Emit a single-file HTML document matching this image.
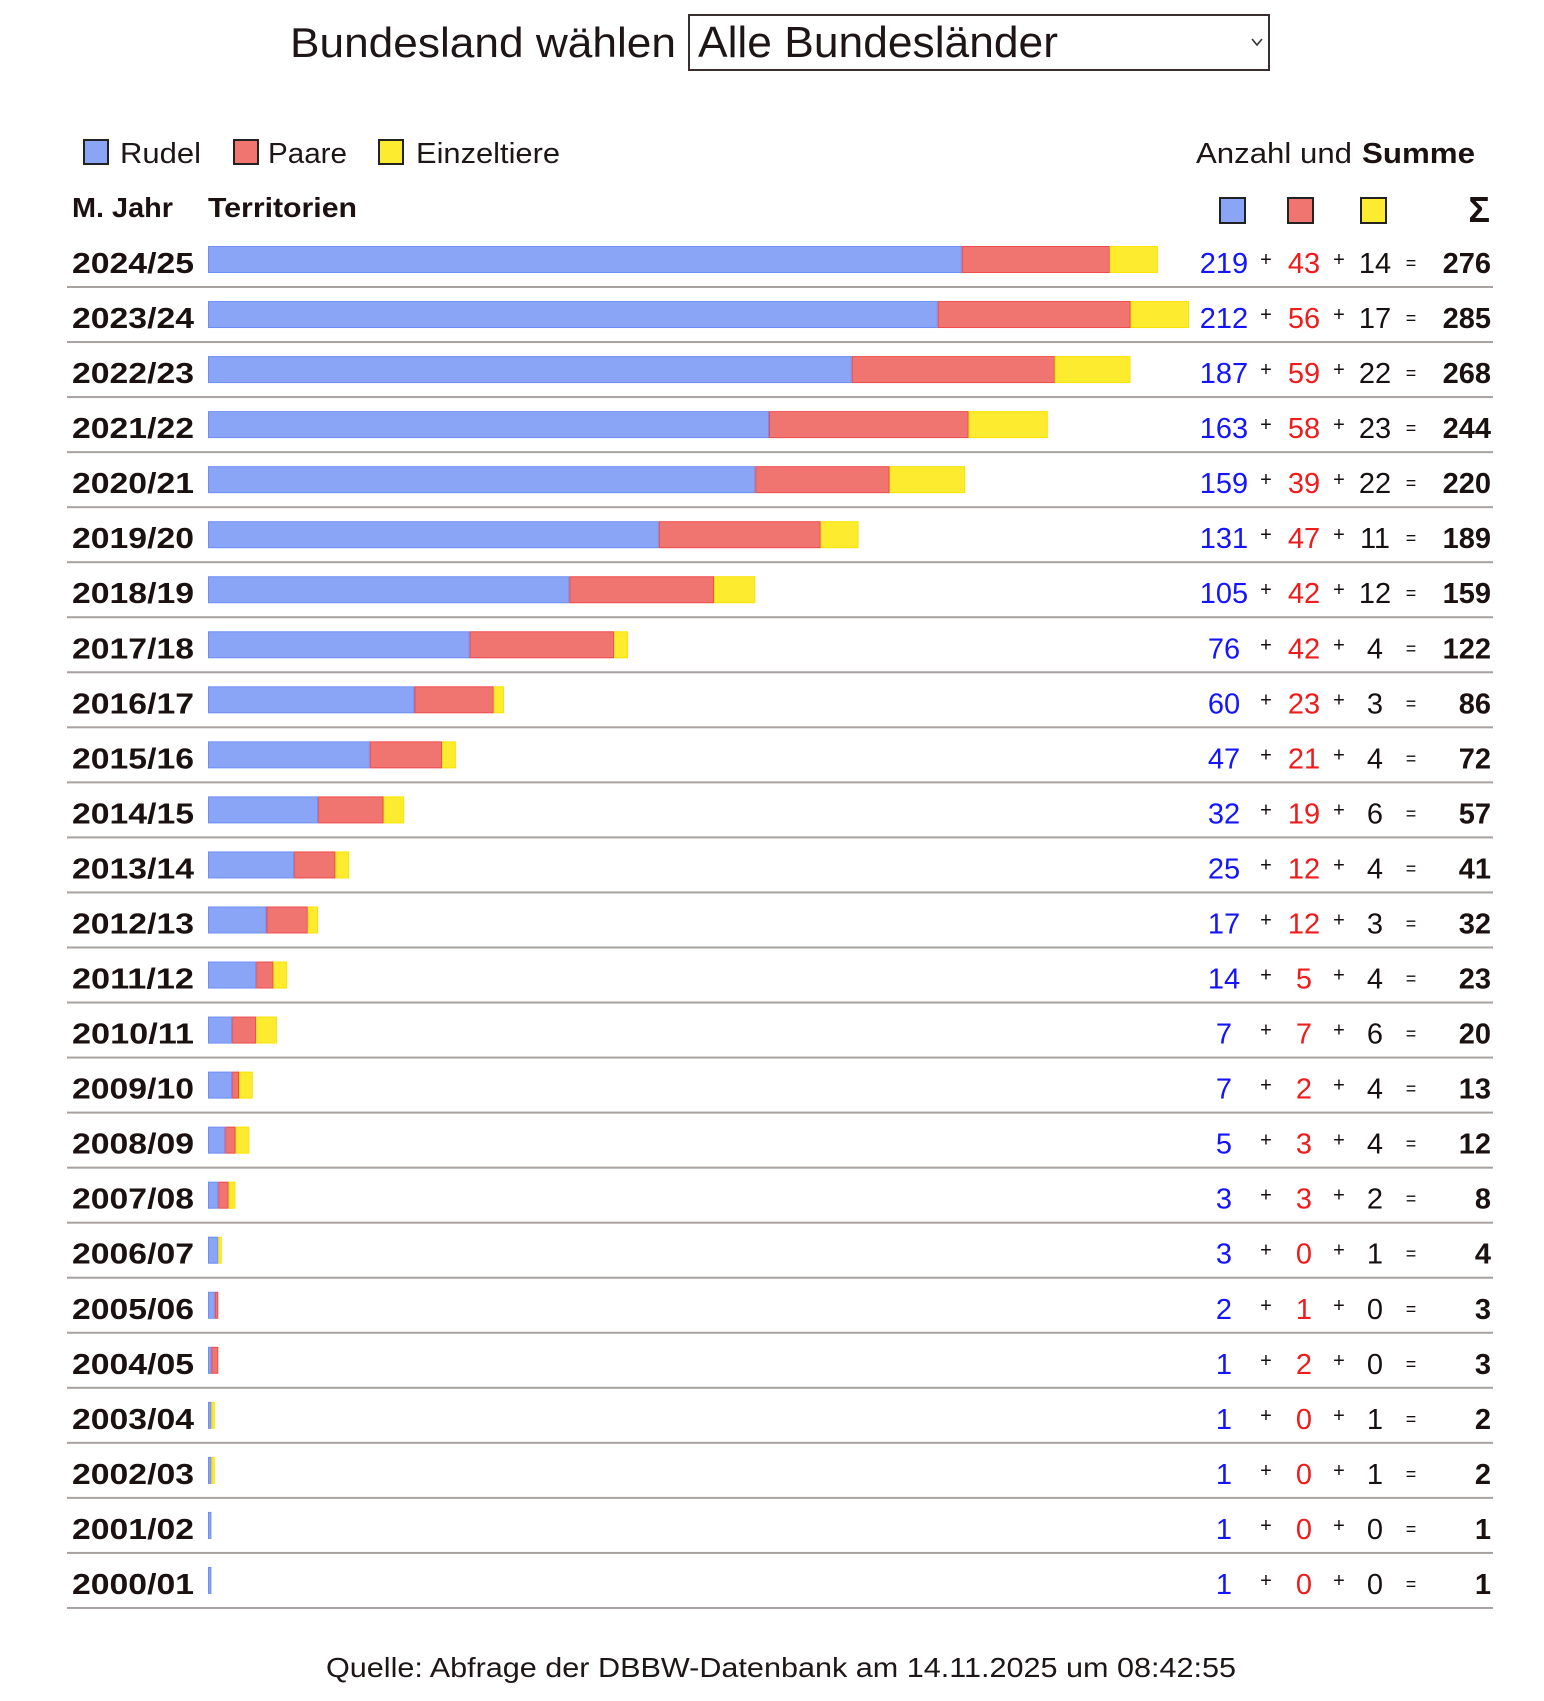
<!DOCTYPE html>
<html>
<head>
<meta charset="utf-8">
<style>
  html,body{margin:0;padding:0;background:#fff;}
  svg{display:block;}
  text{font-family:"Liberation Sans", sans-serif;}
  .yr{font-weight:bold;font-size:29px;fill:#1c1111;}
  .nb{font-size:29px;fill:#1414ff;text-anchor:middle;}
  .nr{font-size:29px;fill:#ee1c1c;text-anchor:middle;}
  .nk{font-size:29px;fill:#161010;text-anchor:middle;}
  .pl{font-size:20px;fill:#161010;text-anchor:middle;}
  .eq{font-size:18px;fill:#161010;text-anchor:middle;}
  .sm{font-weight:bold;font-size:29px;fill:#1c1111;text-anchor:end;}
  .b{fill:#8aa5f5;stroke:#6e8ef5;stroke-width:1;}
  .r{fill:#f07571;stroke:#ee4c4c;stroke-width:1;}
  .y{fill:#fdeb30;stroke:#f8e400;stroke-width:1;}
  .sep{fill:#a8a1a0;}
</style>
</head>
<body>
<svg width="1544" height="1701" viewBox="0 0 1544 1701" xmlns="http://www.w3.org/2000/svg">
  <rect x="0" y="0" width="1544" height="1701" fill="#fff"/>

  <!-- Title & select -->
  <text x="290" y="57" font-size="42" fill="#1e1616" textLength="386" lengthAdjust="spacingAndGlyphs">Bundesland wählen</text>
  <rect x="689" y="15" width="580" height="55" fill="#fff" stroke="#3a2e2e" stroke-width="2"/>
  <text x="698" y="57" font-size="44" fill="#1e1616" textLength="360" lengthAdjust="spacingAndGlyphs">Alle Bundesländer</text>
  <polyline points="1252,39 1257,45 1262,39" fill="none" stroke="#333" stroke-width="1.6"/>

  <!-- Legend -->
  <rect x="84" y="140" width="24" height="24" fill="#8aa5f5" stroke="#222" stroke-width="2"/>
  <text x="120" y="163" font-size="29" fill="#1e1616" textLength="81" lengthAdjust="spacingAndGlyphs">Rudel</text>
  <rect x="234" y="140" width="24" height="24" fill="#f07571" stroke="#222" stroke-width="2"/>
  <text x="268" y="163" font-size="29" fill="#1e1616" textLength="79" lengthAdjust="spacingAndGlyphs">Paare</text>
  <rect x="379" y="140" width="24" height="24" fill="#fdeb30" stroke="#222" stroke-width="2"/>
  <text x="416" y="163" font-size="29" fill="#1e1616" textLength="144" lengthAdjust="spacingAndGlyphs">Einzeltiere</text>

  <text x="1196" y="163" font-size="29" fill="#1e1616" textLength="156" lengthAdjust="spacingAndGlyphs">Anzahl und</text>
  <text x="1362" y="163" font-size="29" font-weight="bold" fill="#1c1111" textLength="113" lengthAdjust="spacingAndGlyphs">Summe</text>

  <!-- Header -->
  <text x="72" y="217" font-size="28" font-weight="bold" fill="#1c1111" textLength="101" lengthAdjust="spacingAndGlyphs">M. Jahr</text>
  <text x="208" y="217" font-size="28" font-weight="bold" fill="#1c1111" textLength="149" lengthAdjust="spacingAndGlyphs">Territorien</text>
  <rect x="1220" y="198" width="25" height="25" fill="#8aa5f5" stroke="#222" stroke-width="2"/>
  <rect x="1288" y="198" width="25" height="25" fill="#f07571" stroke="#222" stroke-width="2"/>
  <rect x="1361" y="198" width="25" height="25" fill="#fdeb30" stroke="#222" stroke-width="2"/>
  <text x="1490" y="222" font-family="Liberation Serif, serif" font-size="36" font-weight="bold" fill="#1c1111" text-anchor="end">Σ</text>

  <!-- Row 0 -->
  <g transform="translate(0,0)">
    <text class="yr" x="72" y="273" textLength="122" lengthAdjust="spacingAndGlyphs">2024/25</text>
    <rect class="b" x="208.5" y="246.5" width="752.8" height="26"/>
    <rect class="r" x="962.3" y="246.5" width="147" height="26"/>
    <rect class="y" x="1110.3" y="246.5" width="47.2" height="26"/>
    <text class="nb" x="1224" y="273">219</text><text class="pl" x="1266" y="266">+</text>
    <text class="nr" x="1304" y="273">43</text><text class="pl" x="1339" y="266">+</text>
    <text class="nk" x="1375" y="273">14</text><text class="eq" x="1411" y="269">=</text>
    <text class="sm" x="1491" y="273">276</text>
    <rect class="sep" x="67" y="286" width="1426" height="2"/>
  </g>
  <!-- Row 1 -->
  <g transform="translate(0,55.04)">
    <text class="yr" x="72" y="273" textLength="122" lengthAdjust="spacingAndGlyphs">2023/24</text>
    <rect class="b" x="208.5" y="246.5" width="728.7" height="26"/>
    <rect class="r" x="938.2" y="246.5" width="191.8" height="26"/>
    <rect class="y" x="1131" y="246.5" width="57.5" height="26"/>
    <text class="nb" x="1224" y="273">212</text><text class="pl" x="1266" y="266">+</text>
    <text class="nr" x="1304" y="273">56</text><text class="pl" x="1339" y="266">+</text>
    <text class="nk" x="1375" y="273">17</text><text class="eq" x="1411" y="269">=</text>
    <text class="sm" x="1491" y="273">285</text>
    <rect class="sep" x="67" y="286" width="1426" height="2"/>
  </g>
  <!-- Row 2 -->
  <g transform="translate(0,110.08)">
    <text class="yr" x="72" y="273" textLength="122" lengthAdjust="spacingAndGlyphs">2022/23</text>
    <rect class="b" x="208.5" y="246.5" width="642.7" height="26"/>
    <rect class="r" x="852.2" y="246.5" width="202.1" height="26"/>
    <rect class="y" x="1055.3" y="246.5" width="74.7" height="26"/>
    <text class="nb" x="1224" y="273">187</text><text class="pl" x="1266" y="266">+</text>
    <text class="nr" x="1304" y="273">59</text><text class="pl" x="1339" y="266">+</text>
    <text class="nk" x="1375" y="273">22</text><text class="eq" x="1411" y="269">=</text>
    <text class="sm" x="1491" y="273">268</text>
    <rect class="sep" x="67" y="286" width="1426" height="2"/>
  </g>
  <!-- Row 3 -->
  <g transform="translate(0,165.12)">
    <text class="yr" x="72" y="273" textLength="122" lengthAdjust="spacingAndGlyphs">2021/22</text>
    <rect class="b" x="208.5" y="246.5" width="560" height="26"/>
    <rect class="r" x="769.5" y="246.5" width="198.6" height="26"/>
    <rect class="y" x="969.1" y="246.5" width="78.2" height="26"/>
    <text class="nb" x="1224" y="273">163</text><text class="pl" x="1266" y="266">+</text>
    <text class="nr" x="1304" y="273">58</text><text class="pl" x="1339" y="266">+</text>
    <text class="nk" x="1375" y="273">23</text><text class="eq" x="1411" y="269">=</text>
    <text class="sm" x="1491" y="273">244</text>
    <rect class="sep" x="67" y="286" width="1426" height="2"/>
  </g>
  <!-- Row 4 -->
  <g transform="translate(0,220.16)">
    <text class="yr" x="72" y="273" textLength="122" lengthAdjust="spacingAndGlyphs">2020/21</text>
    <rect class="b" x="208.5" y="246.5" width="546.3" height="26"/>
    <rect class="r" x="755.8" y="246.5" width="133.2" height="26"/>
    <rect class="y" x="890" y="246.5" width="74.7" height="26"/>
    <text class="nb" x="1224" y="273">159</text><text class="pl" x="1266" y="266">+</text>
    <text class="nr" x="1304" y="273">39</text><text class="pl" x="1339" y="266">+</text>
    <text class="nk" x="1375" y="273">22</text><text class="eq" x="1411" y="269">=</text>
    <text class="sm" x="1491" y="273">220</text>
    <rect class="sep" x="67" y="286" width="1426" height="2"/>
  </g>
  <!-- Row 5 -->
  <g transform="translate(0,275.2)">
    <text class="yr" x="72" y="273" textLength="122" lengthAdjust="spacingAndGlyphs">2019/20</text>
    <rect class="b" x="208.5" y="246.5" width="449.9" height="26"/>
    <rect class="r" x="659.4" y="246.5" width="160.8" height="26"/>
    <rect class="y" x="821.2" y="246.5" width="36.9" height="26"/>
    <text class="nb" x="1224" y="273">131</text><text class="pl" x="1266" y="266">+</text>
    <text class="nr" x="1304" y="273">47</text><text class="pl" x="1339" y="266">+</text>
    <text class="nk" x="1375" y="273">11</text><text class="eq" x="1411" y="269">=</text>
    <text class="sm" x="1491" y="273">189</text>
    <rect class="sep" x="67" y="286" width="1426" height="2"/>
  </g>
  <!-- Row 6 -->
  <g transform="translate(0,330.24)">
    <text class="yr" x="72" y="273" textLength="122" lengthAdjust="spacingAndGlyphs">2018/19</text>
    <rect class="b" x="208.5" y="246.5" width="360.4" height="26"/>
    <rect class="r" x="569.9" y="246.5" width="143.6" height="26"/>
    <rect class="y" x="714.5" y="246.5" width="40.3" height="26"/>
    <text class="nb" x="1224" y="273">105</text><text class="pl" x="1266" y="266">+</text>
    <text class="nr" x="1304" y="273">42</text><text class="pl" x="1339" y="266">+</text>
    <text class="nk" x="1375" y="273">12</text><text class="eq" x="1411" y="269">=</text>
    <text class="sm" x="1491" y="273">159</text>
    <rect class="sep" x="67" y="286" width="1426" height="2"/>
  </g>
  <!-- Row 7 -->
  <g transform="translate(0,385.28)">
    <text class="yr" x="72" y="273" textLength="122" lengthAdjust="spacingAndGlyphs">2017/18</text>
    <rect class="b" x="208.5" y="246.5" width="260.6" height="26"/>
    <rect class="r" x="470.1" y="246.5" width="143.6" height="26"/>
    <rect class="y" x="614.7" y="246.5" width="12.8" height="26"/>
    <text class="nb" x="1224" y="273">76</text><text class="pl" x="1266" y="266">+</text>
    <text class="nr" x="1304" y="273">42</text><text class="pl" x="1339" y="266">+</text>
    <text class="nk" x="1375" y="273">4</text><text class="eq" x="1411" y="269">=</text>
    <text class="sm" x="1491" y="273">122</text>
    <rect class="sep" x="67" y="286" width="1426" height="2"/>
  </g>
  <!-- Row 8 -->
  <g transform="translate(0,440.32)">
    <text class="yr" x="72" y="273" textLength="122" lengthAdjust="spacingAndGlyphs">2016/17</text>
    <rect class="b" x="208.5" y="246.5" width="205.5" height="26"/>
    <rect class="r" x="415" y="246.5" width="78.2" height="26"/>
    <rect class="y" x="494.2" y="246.5" width="9.3" height="26"/>
    <text class="nb" x="1224" y="273">60</text><text class="pl" x="1266" y="266">+</text>
    <text class="nr" x="1304" y="273">23</text><text class="pl" x="1339" y="266">+</text>
    <text class="nk" x="1375" y="273">3</text><text class="eq" x="1411" y="269">=</text>
    <text class="sm" x="1491" y="273">86</text>
    <rect class="sep" x="67" y="286" width="1426" height="2"/>
  </g>
  <!-- Row 9 -->
  <g transform="translate(0,495.36)">
    <text class="yr" x="72" y="273" textLength="122" lengthAdjust="spacingAndGlyphs">2015/16</text>
    <rect class="b" x="208.5" y="246.5" width="160.8" height="26"/>
    <rect class="r" x="370.3" y="246.5" width="71.3" height="26"/>
    <rect class="y" x="442.6" y="246.5" width="12.8" height="26"/>
    <text class="nb" x="1224" y="273">47</text><text class="pl" x="1266" y="266">+</text>
    <text class="nr" x="1304" y="273">21</text><text class="pl" x="1339" y="266">+</text>
    <text class="nk" x="1375" y="273">4</text><text class="eq" x="1411" y="269">=</text>
    <text class="sm" x="1491" y="273">72</text>
    <rect class="sep" x="67" y="286" width="1426" height="2"/>
  </g>
  <!-- Row 10 -->
  <g transform="translate(0,550.4)">
    <text class="yr" x="72" y="273" textLength="122" lengthAdjust="spacingAndGlyphs">2014/15</text>
    <rect class="b" x="208.5" y="246.5" width="109.1" height="26"/>
    <rect class="r" x="318.6" y="246.5" width="64.4" height="26"/>
    <rect class="y" x="384" y="246.5" width="19.7" height="26"/>
    <text class="nb" x="1224" y="273">32</text><text class="pl" x="1266" y="266">+</text>
    <text class="nr" x="1304" y="273">19</text><text class="pl" x="1339" y="266">+</text>
    <text class="nk" x="1375" y="273">6</text><text class="eq" x="1411" y="269">=</text>
    <text class="sm" x="1491" y="273">57</text>
    <rect class="sep" x="67" y="286" width="1426" height="2"/>
  </g>
  <!-- Row 11 -->
  <g transform="translate(0,605.44)">
    <text class="yr" x="72" y="273" textLength="122" lengthAdjust="spacingAndGlyphs">2013/14</text>
    <rect class="b" x="208.5" y="246.5" width="85.1" height="26"/>
    <rect class="r" x="294.6" y="246.5" width="40.3" height="26"/>
    <rect class="y" x="335.9" y="246.5" width="12.8" height="26"/>
    <text class="nb" x="1224" y="273">25</text><text class="pl" x="1266" y="266">+</text>
    <text class="nr" x="1304" y="273">12</text><text class="pl" x="1339" y="266">+</text>
    <text class="nk" x="1375" y="273">4</text><text class="eq" x="1411" y="269">=</text>
    <text class="sm" x="1491" y="273">41</text>
    <rect class="sep" x="67" y="286" width="1426" height="2"/>
  </g>
  <!-- Row 12 -->
  <g transform="translate(0,660.48)">
    <text class="yr" x="72" y="273" textLength="122" lengthAdjust="spacingAndGlyphs">2012/13</text>
    <rect class="b" x="208.5" y="246.5" width="57.5" height="26"/>
    <rect class="r" x="267" y="246.5" width="40.3" height="26"/>
    <rect class="y" x="308.3" y="246.5" width="9.3" height="26"/>
    <text class="nb" x="1224" y="273">17</text><text class="pl" x="1266" y="266">+</text>
    <text class="nr" x="1304" y="273">12</text><text class="pl" x="1339" y="266">+</text>
    <text class="nk" x="1375" y="273">3</text><text class="eq" x="1411" y="269">=</text>
    <text class="sm" x="1491" y="273">32</text>
    <rect class="sep" x="67" y="286" width="1426" height="2"/>
  </g>
  <!-- Row 13 -->
  <g transform="translate(0,715.52)">
    <text class="yr" x="72" y="273" textLength="122" lengthAdjust="spacingAndGlyphs">2011/12</text>
    <rect class="b" x="208.5" y="246.5" width="47.2" height="26"/>
    <rect class="r" x="256.7" y="246.5" width="16.2" height="26"/>
    <rect class="y" x="273.9" y="246.5" width="12.8" height="26"/>
    <text class="nb" x="1224" y="273">14</text><text class="pl" x="1266" y="266">+</text>
    <text class="nr" x="1304" y="273">5</text><text class="pl" x="1339" y="266">+</text>
    <text class="nk" x="1375" y="273">4</text><text class="eq" x="1411" y="269">=</text>
    <text class="sm" x="1491" y="273">23</text>
    <rect class="sep" x="67" y="286" width="1426" height="2"/>
  </g>
  <!-- Row 14 -->
  <g transform="translate(0,770.56)">
    <text class="yr" x="72" y="273" textLength="122" lengthAdjust="spacingAndGlyphs">2010/11</text>
    <rect class="b" x="208.5" y="246.5" width="23.1" height="26"/>
    <rect class="r" x="232.6" y="246.5" width="23.1" height="26"/>
    <rect class="y" x="256.7" y="246.5" width="19.7" height="26"/>
    <text class="nb" x="1224" y="273">7</text><text class="pl" x="1266" y="266">+</text>
    <text class="nr" x="1304" y="273">7</text><text class="pl" x="1339" y="266">+</text>
    <text class="nk" x="1375" y="273">6</text><text class="eq" x="1411" y="269">=</text>
    <text class="sm" x="1491" y="273">20</text>
    <rect class="sep" x="67" y="286" width="1426" height="2"/>
  </g>
  <!-- Row 15 -->
  <g transform="translate(0,825.6)">
    <text class="yr" x="72" y="273" textLength="122" lengthAdjust="spacingAndGlyphs">2009/10</text>
    <rect class="b" x="208.5" y="246.5" width="23.1" height="26"/>
    <rect class="r" x="232.6" y="246.5" width="5.9" height="26"/>
    <rect class="y" x="239.5" y="246.5" width="12.8" height="26"/>
    <text class="nb" x="1224" y="273">7</text><text class="pl" x="1266" y="266">+</text>
    <text class="nr" x="1304" y="273">2</text><text class="pl" x="1339" y="266">+</text>
    <text class="nk" x="1375" y="273">4</text><text class="eq" x="1411" y="269">=</text>
    <text class="sm" x="1491" y="273">13</text>
    <rect class="sep" x="67" y="286" width="1426" height="2"/>
  </g>
  <!-- Row 16 -->
  <g transform="translate(0,880.64)">
    <text class="yr" x="72" y="273" textLength="122" lengthAdjust="spacingAndGlyphs">2008/09</text>
    <rect class="b" x="208.5" y="246.5" width="16.2" height="26"/>
    <rect class="r" x="225.7" y="246.5" width="9.3" height="26"/>
    <rect class="y" x="236" y="246.5" width="12.8" height="26"/>
    <text class="nb" x="1224" y="273">5</text><text class="pl" x="1266" y="266">+</text>
    <text class="nr" x="1304" y="273">3</text><text class="pl" x="1339" y="266">+</text>
    <text class="nk" x="1375" y="273">4</text><text class="eq" x="1411" y="269">=</text>
    <text class="sm" x="1491" y="273">12</text>
    <rect class="sep" x="67" y="286" width="1426" height="2"/>
  </g>
  <!-- Row 17 -->
  <g transform="translate(0,935.68)">
    <text class="yr" x="72" y="273" textLength="122" lengthAdjust="spacingAndGlyphs">2007/08</text>
    <rect class="b" x="208.5" y="246.5" width="9.3" height="26"/>
    <rect class="r" x="218.8" y="246.5" width="9.3" height="26"/>
    <rect class="y" x="229.1" y="246.5" width="5.9" height="26"/>
    <text class="nb" x="1224" y="273">3</text><text class="pl" x="1266" y="266">+</text>
    <text class="nr" x="1304" y="273">3</text><text class="pl" x="1339" y="266">+</text>
    <text class="nk" x="1375" y="273">2</text><text class="eq" x="1411" y="269">=</text>
    <text class="sm" x="1491" y="273">8</text>
    <rect class="sep" x="67" y="286" width="1426" height="2"/>
  </g>
  <!-- Row 18 -->
  <g transform="translate(0,990.72)">
    <text class="yr" x="72" y="273" textLength="122" lengthAdjust="spacingAndGlyphs">2006/07</text>
    <rect class="b" x="208.5" y="246.5" width="9.3" height="26"/>
    <rect class="y" x="218.8" y="246.5" width="2.4" height="26"/>
    <text class="nb" x="1224" y="273">3</text><text class="pl" x="1266" y="266">+</text>
    <text class="nr" x="1304" y="273">0</text><text class="pl" x="1339" y="266">+</text>
    <text class="nk" x="1375" y="273">1</text><text class="eq" x="1411" y="269">=</text>
    <text class="sm" x="1491" y="273">4</text>
    <rect class="sep" x="67" y="286" width="1426" height="2"/>
  </g>
  <!-- Row 19 -->
  <g transform="translate(0,1045.76)">
    <text class="yr" x="72" y="273" textLength="122" lengthAdjust="spacingAndGlyphs">2005/06</text>
    <rect class="b" x="208.5" y="246.5" width="5.9" height="26"/>
    <rect class="r" x="215.4" y="246.5" width="2.4" height="26"/>
    <text class="nb" x="1224" y="273">2</text><text class="pl" x="1266" y="266">+</text>
    <text class="nr" x="1304" y="273">1</text><text class="pl" x="1339" y="266">+</text>
    <text class="nk" x="1375" y="273">0</text><text class="eq" x="1411" y="269">=</text>
    <text class="sm" x="1491" y="273">3</text>
    <rect class="sep" x="67" y="286" width="1426" height="2"/>
  </g>
  <!-- Row 20 -->
  <g transform="translate(0,1100.8)">
    <text class="yr" x="72" y="273" textLength="122" lengthAdjust="spacingAndGlyphs">2004/05</text>
    <rect class="b" x="208.5" y="246.5" width="2.4" height="26"/>
    <rect class="r" x="211.9" y="246.5" width="5.9" height="26"/>
    <text class="nb" x="1224" y="273">1</text><text class="pl" x="1266" y="266">+</text>
    <text class="nr" x="1304" y="273">2</text><text class="pl" x="1339" y="266">+</text>
    <text class="nk" x="1375" y="273">0</text><text class="eq" x="1411" y="269">=</text>
    <text class="sm" x="1491" y="273">3</text>
    <rect class="sep" x="67" y="286" width="1426" height="2"/>
  </g>
  <!-- Row 21 -->
  <g transform="translate(0,1155.84)">
    <text class="yr" x="72" y="273" textLength="122" lengthAdjust="spacingAndGlyphs">2003/04</text>
    <rect class="b" x="208.5" y="246.5" width="2.4" height="26"/>
    <rect class="y" x="211.9" y="246.5" width="2.4" height="26"/>
    <text class="nb" x="1224" y="273">1</text><text class="pl" x="1266" y="266">+</text>
    <text class="nr" x="1304" y="273">0</text><text class="pl" x="1339" y="266">+</text>
    <text class="nk" x="1375" y="273">1</text><text class="eq" x="1411" y="269">=</text>
    <text class="sm" x="1491" y="273">2</text>
    <rect class="sep" x="67" y="286" width="1426" height="2"/>
  </g>
  <!-- Row 22 -->
  <g transform="translate(0,1210.88)">
    <text class="yr" x="72" y="273" textLength="122" lengthAdjust="spacingAndGlyphs">2002/03</text>
    <rect class="b" x="208.5" y="246.5" width="2.4" height="26"/>
    <rect class="y" x="211.9" y="246.5" width="2.4" height="26"/>
    <text class="nb" x="1224" y="273">1</text><text class="pl" x="1266" y="266">+</text>
    <text class="nr" x="1304" y="273">0</text><text class="pl" x="1339" y="266">+</text>
    <text class="nk" x="1375" y="273">1</text><text class="eq" x="1411" y="269">=</text>
    <text class="sm" x="1491" y="273">2</text>
    <rect class="sep" x="67" y="286" width="1426" height="2"/>
  </g>
  <!-- Row 23 -->
  <g transform="translate(0,1265.92)">
    <text class="yr" x="72" y="273" textLength="122" lengthAdjust="spacingAndGlyphs">2001/02</text>
    <rect class="b" x="208.5" y="246.5" width="2.4" height="26"/>
    <text class="nb" x="1224" y="273">1</text><text class="pl" x="1266" y="266">+</text>
    <text class="nr" x="1304" y="273">0</text><text class="pl" x="1339" y="266">+</text>
    <text class="nk" x="1375" y="273">0</text><text class="eq" x="1411" y="269">=</text>
    <text class="sm" x="1491" y="273">1</text>
    <rect class="sep" x="67" y="286" width="1426" height="2"/>
  </g>
  <!-- Row 24 -->
  <g transform="translate(0,1320.96)">
    <text class="yr" x="72" y="273" textLength="122" lengthAdjust="spacingAndGlyphs">2000/01</text>
    <rect class="b" x="208.5" y="246.5" width="2.4" height="26"/>
    <text class="nb" x="1224" y="273">1</text><text class="pl" x="1266" y="266">+</text>
    <text class="nr" x="1304" y="273">0</text><text class="pl" x="1339" y="266">+</text>
    <text class="nk" x="1375" y="273">0</text><text class="eq" x="1411" y="269">=</text>
    <text class="sm" x="1491" y="273">1</text>
    <rect class="sep" x="67" y="286" width="1426" height="2"/>
  </g>

  <!-- Footer -->
  <text x="326" y="1677" font-size="28" fill="#1e1616" textLength="910" lengthAdjust="spacingAndGlyphs">Quelle: Abfrage der DBBW-Datenbank am 14.11.2025 um 08:42:55</text>
</svg>
</body>
</html>
